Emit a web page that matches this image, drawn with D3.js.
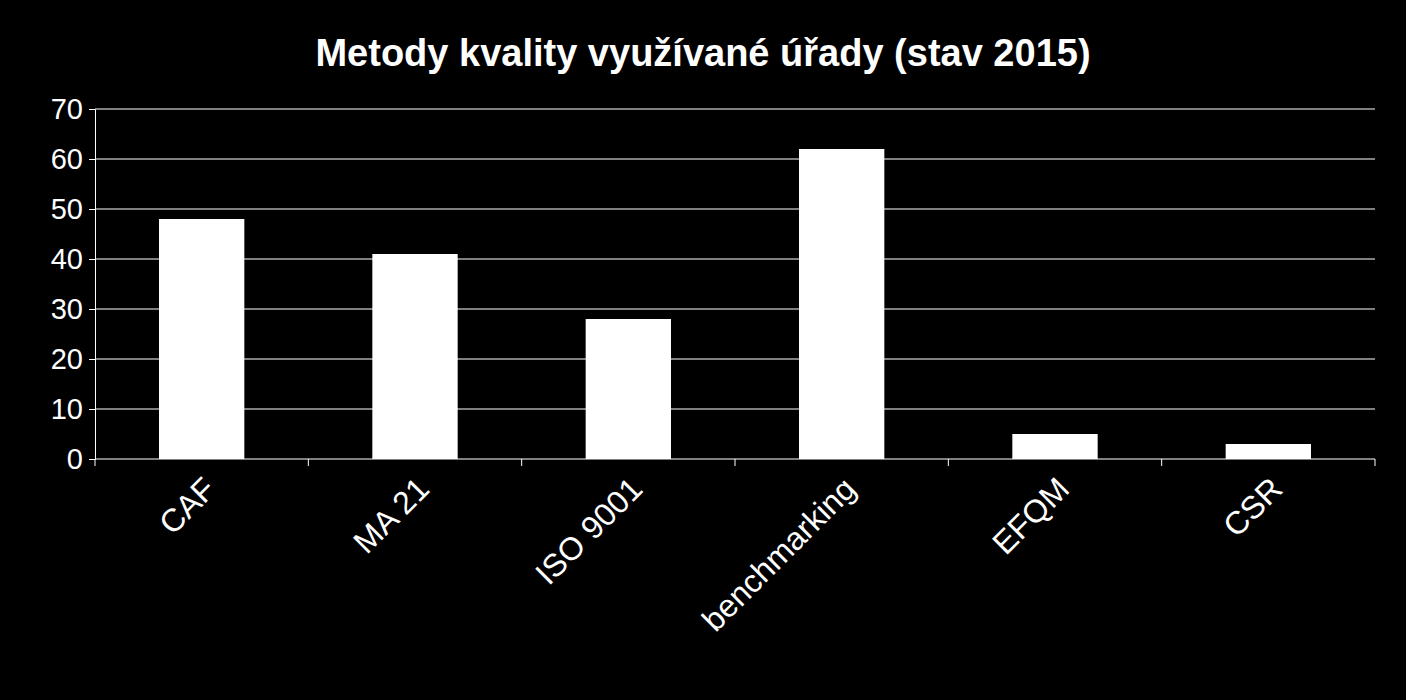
<!DOCTYPE html>
<html><head><meta charset="utf-8">
<script src="https://cdn.jsdelivr.net/npm/d3@7"></script>
<style>body{margin:0;background:#000}</style>
</head><body>
<script>
var categories = ["CAF", "MA 21", "ISO 9001", "benchmarking", "EFQM", "CSR"];
var values = [48, 41, 28, 62, 5, 3];
var yTicks = [0, 10, 20, 30, 40, 50, 60, 70];

var svg = d3.select("body").append("svg").attr("width", 1406).attr("height", 700)
  .style("background", "#000").style("font-family", "Liberation Sans, Arial, sans-serif");

var plotL = 95, plotR = 1375, plotT = 109, plotB = 459;
var x = d3.scaleBand().domain(categories).range([plotL, plotR]).paddingInner(0.6).paddingOuter(0.3);
var y = d3.scaleLinear().domain([0, 70]).range([plotB, plotT]);

svg.append("text").attr("x", 703).attr("y", 66).attr("text-anchor", "middle")
  .attr("fill", "#fff").attr("font-size", 38).attr("font-weight", "bold")
  .text("Metody kvality využívané úřady (stav 2015)");

// gridlines
svg.selectAll("line.grid").data(yTicks.slice(1)).enter().append("line")
  .attr("class", "grid")
  .attr("x1", plotL).attr("x2", plotR)
  .attr("y1", function(d){ return y(d); }).attr("y2", function(d){ return y(d); })
  .attr("stroke", "#fff").attr("stroke-width", 1);

svg.selectAll("rect").data(values).enter().append("rect")
  .attr("x", function(d, i){ return x(categories[i]); })
  .attr("y", function(d){ return y(d); })
  .attr("width", x.bandwidth())
  .attr("height", function(d){ return plotB - y(d); })
  .attr("fill", "#fff");

var yAxis = svg.append("g").attr("transform", "translate(" + plotL + ",0)")
  .call(d3.axisLeft(y).tickValues(yTicks).tickSize(6).tickPadding(6));
yAxis.selectAll("text").attr("fill", "#fff").attr("font-size", 29).attr("font-family", "Liberation Sans, Arial, sans-serif");
yAxis.selectAll("line,path").attr("stroke", "#fff");

// x axis with ticks at band edges
var xg = svg.append("g");
xg.append("line").attr("x1", plotL).attr("x2", plotR).attr("y1", plotB).attr("y2", plotB).attr("stroke", "#fff");
var edges = d3.range(categories.length + 1).map(function(i){ return plotL + (plotR - plotL) * i / categories.length; });
xg.selectAll("line.t").data(edges).enter().append("line")
  .attr("class", "t")
  .attr("x1", function(d){ return d; }).attr("x2", function(d){ return d; })
  .attr("y1", plotB).attr("y2", plotB + 7).attr("stroke", "#fff");
xg.selectAll("text").data(categories).enter().append("text")
  .attr("transform", function(d){ return "translate(" + (x(d) + x.bandwidth() / 2 + 16) + "," + (plotB + 32) + ") rotate(-45)"; })
  .attr("text-anchor", "end").attr("fill", "#fff").attr("font-size", 32)
  .text(function(d){ return d; });
</script>
</body></html>
